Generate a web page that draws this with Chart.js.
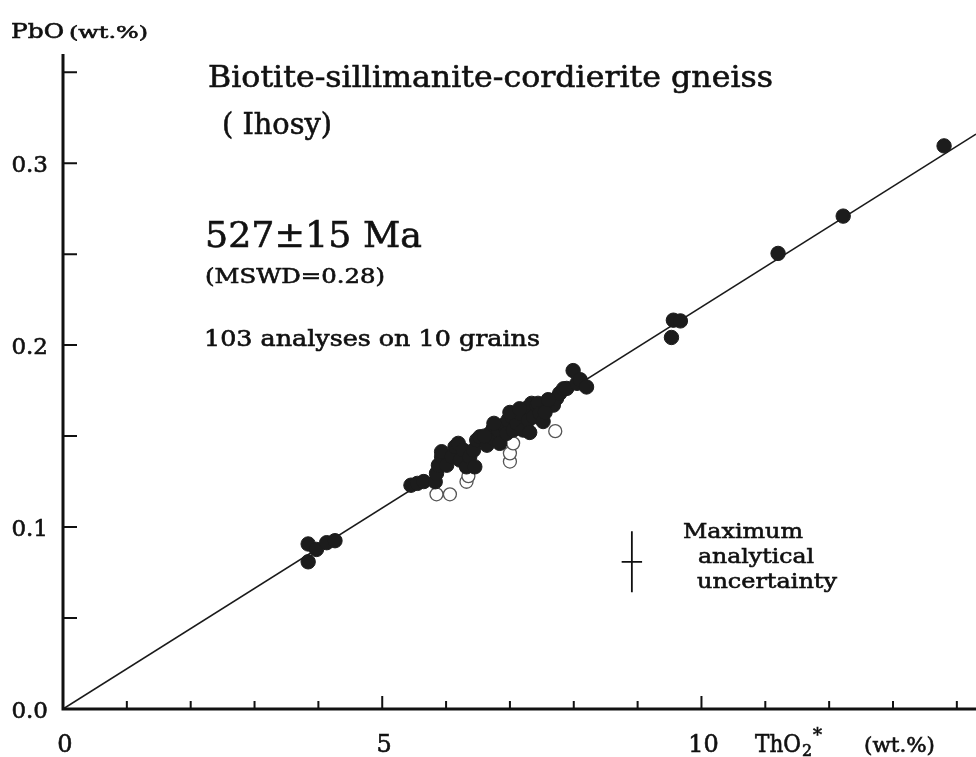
<!DOCTYPE html>
<html>
<head>
<script src="https://cdnjs.cloudflare.com/ajax/libs/Chart.js/4.4.1/chart.umd.min.js"></script>
<style>
  html, body { margin: 0; padding: 0; background: #fff; overflow: hidden; }
  canvas { display: block; }
</style>
</head>
<body>
<canvas id="canvas" width="976" height="757"></canvas>
<script>

// filled symbols: ThO2* (wt.%) vs PbO (wt.%)
var filledX = [3.84, 3.97, 4.13, 4.26, 3.84,
  5.45, 5.55, 5.65,
  5.83, 5.85, 5.88, 5.93, 5.93, 6.01, 6.09, 6.14, 6.19, 6.22, 6.27, 6.32, 6.37, 6.43, 6.48, 6.45,
  6.53, 6.64, 6.69, 6.74, 6.74, 6.82, 6.84, 6.90, 6.95, 6.97, 7.03, 7.05, 7.11, 7.16, 7.21, 7.26,
  7.29, 7.31, 7.34, 7.37, 7.42, 7.44, 7.47, 7.52, 7.68, 7.73, 7.78, 7.84, 7.89, 7.99, 8.05, 8.10, 8.20,
  6.60, 6.75, 7.00, 7.15, 7.55, 7.60,
  9.53, 9.56, 9.67, 11.20, 12.22, 13.80];
var filledY = [0.0907, 0.0877, 0.0914, 0.0925, 0.0809,
  0.123, 0.124, 0.125,
  0.1249, 0.1295, 0.134, 0.1386, 0.1414, 0.134, 0.1386, 0.1441, 0.146, 0.1368, 0.1423, 0.1331, 0.1386, 0.1423, 0.1478, 0.1331,
  0.1496, 0.145, 0.1515, 0.1487, 0.1542, 0.1533, 0.1460, 0.156, 0.1515, 0.1588, 0.1606, 0.1533, 0.157, 0.1625, 0.1533, 0.1652,
  0.1588, 0.152, 0.168, 0.1606, 0.167, 0.168, 0.1625, 0.158, 0.167, 0.1707, 0.1735, 0.176, 0.1762, 0.186, 0.179, 0.181, 0.177,
  0.150, 0.157, 0.163, 0.165, 0.163, 0.170,
  0.2042, 0.2137, 0.2133, 0.2504, 0.2709, 0.3095];

// open symbols
var openX = [5.85, 6.06, 6.32, 6.35, 7.00, 7.00, 7.05, 7.71];
var openY = [0.118, 0.118, 0.1249, 0.128, 0.136, 0.1405, 0.146, 0.1527];

// isochron (527 Ma)
var fitX = [0, 14.3];
var fitY = [0, 0.316];

// maximum analytical uncertainty cross
var errX = [8.91];
var errY = [0.0809];
var errDx = [0.16];
var errDy = [0.0168];

var xTickValues = [0, 5, 10];
var xTickLabels = ['0', '5', '10'];
var yTickValues = [0, 0.1, 0.2, 0.3];
var yTickLabels = ['0.0', '0.1', '0.2', '0.3'];

var SERIF = '"DejaVu Serif", "Liberation Serif", serif';

function pts(xs, ys) {
  return xs.map((x, i) => ({ x: x, y: ys[i] }));
}

// draw text, squeezed/stretched to a given width when one is given
function txt(ctx, s, x, y, size, w, align) {
  ctx.save();
  ctx.font = size + 'px ' + SERIF;
  ctx.fillStyle = '#111';
  ctx.strokeStyle = '#111';
  ctx.lineWidth = 0.6;
  ctx.textBaseline = 'alphabetic';
  ctx.textAlign = align || 'left';
  ctx.translate(x, y);
  if (w) ctx.scale(w / ctx.measureText(s).width, 1);
  ctx.fillText(s, 0, 0);
  ctx.strokeText(s, 0, 0);
  ctx.restore();
}

var framePlugin = {
  id: 'frame',
  afterDraw(chart) {
    let ctx = chart.ctx, xs = chart.scales.x, ys = chart.scales.y;
    let x0 = xs.getPixelForValue(0), y0 = ys.getPixelForValue(0);

    ctx.save();
    ctx.strokeStyle = '#111';
    ctx.lineCap = 'butt';

    // axes
    ctx.lineWidth = 3;
    ctx.beginPath();
    ctx.moveTo(x0, ys.getPixelForValue(ys.max));
    ctx.lineTo(x0, y0);
    ctx.lineTo(xs.getPixelForValue(xs.max), y0);
    ctx.stroke();

    // inward ticks
    ctx.lineWidth = 2;
    ctx.beginPath();
    for (let v = 0.05; v < 0.36; v += 0.05) {
      let p = ys.getPixelForValue(v);
      ctx.moveTo(x0, p);
      ctx.lineTo(x0 + 14, p);
    }
    for (let v = 1; v <= 14; v++) {
      let p = xs.getPixelForValue(v);
      ctx.moveTo(p, y0);
      ctx.lineTo(p, y0 - (v % 5 === 0 ? 13 : 8));
    }
    ctx.stroke();

    // error cross
    ctx.lineWidth = 1.8;
    ctx.beginPath();
    errX.forEach((ex, i) => {
      let cx = xs.getPixelForValue(ex), cy = ys.getPixelForValue(errY[i]);
      ctx.moveTo(cx, ys.getPixelForValue(errY[i] + errDy[i]));
      ctx.lineTo(cx, ys.getPixelForValue(errY[i] - errDy[i]));
      ctx.moveTo(xs.getPixelForValue(ex - errDx[i]), cy);
      ctx.lineTo(xs.getPixelForValue(ex + errDx[i]), cy);
    });
    ctx.stroke();
    ctx.restore();

    // tick labels
    yTickValues.forEach((v, i) => {
      txt(ctx, yTickLabels[i], 48, ys.getPixelForValue(v) + 9, 23, 0, 'right');
    });
    xTickValues.forEach((v, i) => {
      txt(ctx, xTickLabels[i], xs.getPixelForValue(v) + 2, 752, 24, 0, 'center');
    });

    // axis titles
    txt(ctx, 'PbO', 11, 38, 21, 53);
    txt(ctx, '(wt.%)', 69, 38, 17, 79);
    txt(ctx, 'ThO', 755, 752, 24, 46);
    txt(ctx, '2', 802, 756, 16);
    txt(ctx, '*', 813, 741, 18);
    txt(ctx, '(wt.%)', 864, 752, 21, 71);

    // annotations
    txt(ctx, 'Biotite-sillimanite-cordierite gneiss', 208, 87, 30, 565);
    txt(ctx, '( Ihosy)', 222, 134, 30, 110);
    txt(ctx, '527\u00b115 Ma', 205, 247, 36, 217);
    txt(ctx, '(MSWD=0.28)', 205, 283, 20, 180);
    txt(ctx, '103 analyses on 10 grains', 204, 346, 22, 336);
    txt(ctx, 'Maximum', 683, 538, 21, 120);
    txt(ctx, 'analytical', 698, 563, 21, 116);
    txt(ctx, 'uncertainty', 697, 588, 21, 140);
  }
};

window.addEventListener('load', function () {
  var ctx = document.getElementById('canvas').getContext('2d');
  window.myScatter = new Chart(ctx, {
    type: 'scatter',
    data: {
      datasets: [
        {
          label: 'isochron',
          data: pts(fitX, fitY),
          showLine: true,
          pointRadius: 0,
          borderColor: '#1a1a1a',
          borderWidth: 1.6,
          order: 3
        },
        {
          label: 'open',
          data: pts(openX, openY),
          pointRadius: 6.5,
          pointBackgroundColor: '#fff',
          pointBorderColor: '#555',
          pointBorderWidth: 1.3,
          order: 2
        },
        {
          label: 'filled',
          data: pts(filledX, filledY),
          pointRadius: 7.2,
          pointBackgroundColor: '#1c1c1c',
          pointBorderColor: '#1c1c1c',
          pointBorderWidth: 1,
          order: 1
        }
      ]
    },
    options: {
      responsive: false,
      animation: false,
      layout: { autoPadding: false, padding: { left: 63, right: 0, top: 54, bottom: 48 } },
      plugins: { legend: { display: false }, tooltip: { enabled: false } },
      scales: {
        x: { type: 'linear', min: 0, max: 14.3, display: false },
        y: { type: 'linear', min: 0, max: 0.36, display: false }
      }
    },
    plugins: [framePlugin]
  });
});
</script>
</body>
</html>
